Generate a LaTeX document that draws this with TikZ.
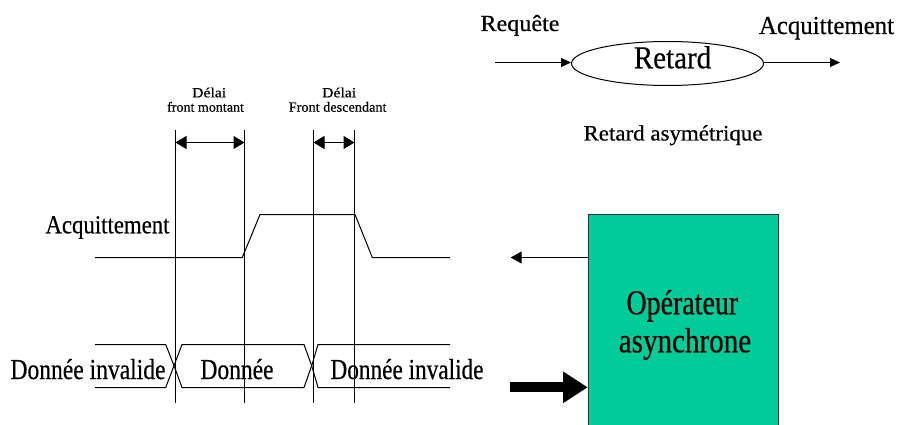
\documentclass[tikz,border=0pt]{standalone}
\usepackage{fontspec}
\setmainfont{Liberation Serif}[FakeBold=0.5]
\usetikzlibrary{arrows.meta,shapes.geometric}
\definecolor{opgreen}{RGB}{0,204,153}
\definecolor{boxedge}{RGB}{50,50,50}
\newcommand{\fw}[3]{\resizebox{#1pt}{\height}{\fontsize{#2pt}{#2pt}\selectfont #3}}
\begin{document}
\begin{tikzpicture}[x=1pt,y=-1pt,line width=1pt,
  txt/.style={inner sep=0pt,anchor=base west},
  thin tip/.style={-{Triangle[length=10pt,width=9pt]}},
  dly/.style={{Triangle[length=11pt,width=13pt]}-{Triangle[length=11pt,width=13pt]}},
  wave/.style={line width=1pt,line join=miter}]
\useasboundingbox (0,0) rectangle (902,425);
\clip (0,0) rectangle (902,425);

% ---- Retard asymetrique (top right)
\node[draw,ellipse,minimum width=192pt,minimum height=44pt,inner sep=0pt] (ret) at (667.5,63.5) {};
\node[txt] (rettxt) at (633.3,68.3) {\fw{77.4}{32}{Retard}};
\coordinate (reqin) at (495,62.5);
\coordinate (ackout) at (840,62.5);
\draw[thin tip] (reqin) -- (ret.west |- reqin);
\draw[thin tip] (ret.east |- ackout) -- (ackout);
\node[txt] (req) at (480,31) {\fw{79}{23}{Requête}};
\node[txt] (ackr) at (758.5,34) {\fw{135}{26}{Acquittement}};
\node[txt] (asym) at (583,140.5) {\fw{179}{22}{Retard asymétrique}};

% ---- Operateur asynchrone
\node[draw=boxedge,fill=opgreen,line width=1pt,minimum width=190.6pt,minimum height=230pt,inner sep=0pt,anchor=north west] (op) at (587.7,214.3) {};
\node[txt] (op1) at (626,314.3) {\fw{111.7}{35}{Opérateur}};
\node[txt] (op2) at (618.3,352.3) {\fw{132.4}{35}{asynchrone}};
\coordinate (ackleft) at (510.7,257.5);
\draw[-{Triangle[length=11pt,width=12pt]}] (op.west |- ackleft) -- (ackleft);
\coordinate (datain) at (510,387.3);
\draw[line width=10pt,-{Triangle[length=24.7pt,width=30pt]}] (datain) -- (op.west |- datain);

% ---- Timing diagram: vertical markers
\coordinate (v1t) at (175.5,130);   \coordinate (v1b) at (175.5,403);
\coordinate (v2t) at (244.5,130); \coordinate (v2b) at (244.5,403);
\coordinate (v3t) at (313.5,130);   \coordinate (v3b) at (313.5,403);
\coordinate (v4t) at (354.5,130); \coordinate (v4b) at (354.5,403);

% Acquittement waveform
\node[txt] (ackl) at (45,233.3) {\fw{124}{26}{Acquittement}};
\draw[wave] (95,257.5) -- (242.3,257.5) -- (260,214.5) -- (355,214.5) -- (372.3,257.5) -- (450,257.5);

% Data bus
\draw[wave] (95,344.5) -- (165.7,344.5) -- (174,365.7) -- (165.7,387.5) -- (95,387.5);
\draw[wave] (182,344.5) -- (304,344.5) -- (311.7,365.7) -- (304,387.5) -- (182,387.5) -- (174,365.7) -- cycle;
\draw[wave] (450,344.5) -- (318,344.5) -- (311.7,365.7) -- (318,387.5) -- (450,387.5);
\node[txt] (inv1) at (10,379) {\fw{155}{29}{Donnée invalide}};
\node[txt] (don) at (200,379) {\fw{73}{29}{Donnée}};
\node[txt] (inv2) at (330,379) {\fw{153}{29}{Donnée invalide}};

% vertical lines
\draw (v1t) -- (v1b);
\draw (v2t) -- (v2b);
\draw (v3t) -- (v3b);
\draw (v4t) -- (v4b);

% delay arrows
\draw[dly] (v1t |- 0,142.5) -- (v2t |- 0,142.5);
\draw[dly] (v3t |- 0,142.5) -- (v4t |- 0,142.5);
\node[txt] (d1a) at (191.7,97.3) {\fw{34}{14}{Délai}};
\node[txt] (d1b) at (166.7,111.7) {\fw{76.7}{14}{front montant}};
\node[txt] (d2a) at (321.7,97.3) {\fw{34}{14}{Délai}};
\node[txt] (d2b) at (288.3,111.7) {\fw{97.7}{14}{Front descendant}};
\end{tikzpicture}
\end{document}
